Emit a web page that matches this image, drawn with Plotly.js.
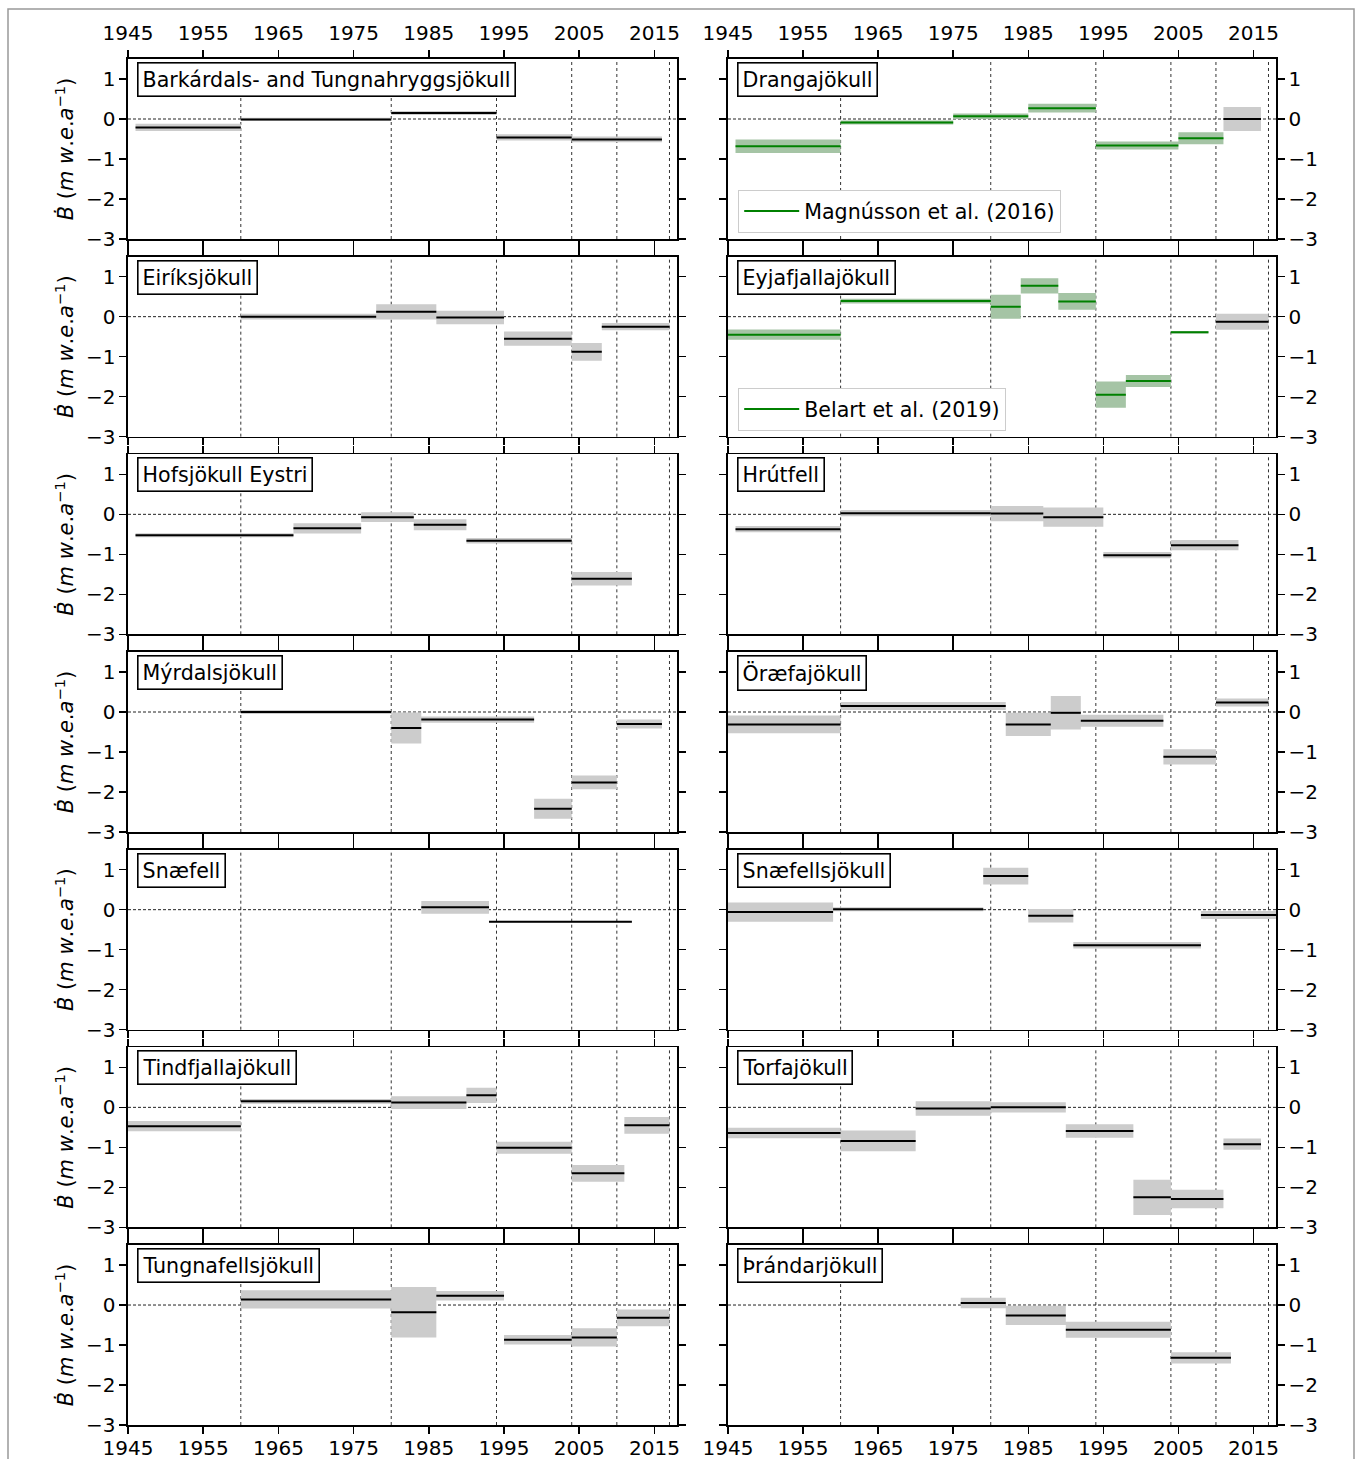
<!DOCTYPE html>
<html>
<head>
<meta charset="utf-8">
<script src="https://cdn.plot.ly/plotly-3.0.1.min.js"></script>
<style>html,body{margin:0;padding:0;background:#fff;}#chart{width:1360px;height:1459px;}</style>
</head>
<body>
<div id="chart"></div>
<script>
// ---------------- DATA ----------------
const glacierNames = [
  "Barkárdals- and Tungnahryggsjökull", "Drangajökull",
  "Eiríksjökull", "Eyjafjallajökull",
  "Hofsjökull Eystri", "Hrútfell",
  "Mýrdalsjökull", "Öræfajökull",
  "Snæfell", "Snæfellsjökull",
  "Tindfjallajökull", "Torfajökull",
  "Tungnafellsjökull", "Þrándarjökull"
];
const xTickYears = [1945, 1955, 1965, 1975, 1985, 1995, 2005, 2015];
const yTickValues = [-3, -2, -1, 0, 1];
const periodBoundaries = [1960, 1980, 1994, 2004, 2010, 2017];

// Barkárdals- and Tungnahryggsjökull
const barkStart = [1946, 1960, 1980, 1994, 2004];
const barkEnd   = [1960, 1980, 1994, 2004, 2016];
const barkVal   = [-0.21, -0.01, 0.15, -0.46, -0.51];
const barkUnc   = [0.09, 0.04, 0.05, 0.08, 0.07];

// Drangajökull
const drangStart = [2011];
const drangEnd   = [2016];
const drangVal   = [0.0];
const drangUnc   = [0.3];
const drangRefStart = [1946, 1960, 1975, 1985, 1994, 2005];
const drangRefEnd   = [1960, 1975, 1985, 1994, 2005, 2011];
const drangRefVal   = [-0.68, -0.09, 0.07, 0.27, -0.66, -0.48];
const drangRefUnc   = [0.17, 0.05, 0.07, 0.11, 0.10, 0.15];

// Eiríksjökull
const eirStart = [1960, 1978, 1986, 1995, 2004, 2008];
const eirEnd   = [1978, 1986, 1995, 2004, 2008, 2017];
const eirVal   = [0.0, 0.12, -0.02, -0.55, -0.88, -0.25];
const eirUnc   = [0.07, 0.19, 0.17, 0.18, 0.22, 0.09];

// Eyjafjallajökull
const eyjStart = [2010];
const eyjEnd   = [2017];
const eyjVal   = [-0.13];
const eyjUnc   = [0.20];
const eyjRefStart = [1945, 1960, 1980, 1984, 1989, 1994, 1998, 2004];
const eyjRefEnd   = [1960, 1980, 1984, 1989, 1994, 1998, 2004, 2009];
const eyjRefVal   = [-0.45, 0.39, 0.25, 0.77, 0.38, -1.95, -1.61, -0.39];
const eyjRefUnc   = [0.13, 0.06, 0.30, 0.19, 0.21, 0.33, 0.15, 0.03];

// Hofsjökull Eystri
const hofStart = [1946, 1967, 1976, 1983, 1990, 2004];
const hofEnd   = [1967, 1976, 1983, 1990, 2004, 2012];
const hofVal   = [-0.52, -0.35, -0.07, -0.26, -0.66, -1.61];
const hofUnc   = [0.05, 0.13, 0.12, 0.14, 0.07, 0.17];

// Hrútfell
const hrutStart = [1946, 1960, 1980, 1987, 1995, 2004];
const hrutEnd   = [1960, 1980, 1987, 1995, 2004, 2013];
const hrutVal   = [-0.37, 0.03, 0.02, -0.07, -1.02, -0.77];
const hrutUnc   = [0.08, 0.08, 0.19, 0.24, 0.08, 0.13];

// Mýrdalsjökull
const myrStart = [1960, 1980, 1984, 1999, 2004, 2010];
const myrEnd   = [1980, 1984, 1999, 2004, 2010, 2016];
const myrVal   = [0.0, -0.40, -0.19, -2.42, -1.76, -0.30];
const myrUnc   = [0.05, 0.39, 0.08, 0.25, 0.17, 0.11];

// Öræfajökull
const oraStart = [1945, 1960, 1982, 1988, 1992, 2003, 2010];
const oraEnd   = [1960, 1982, 1988, 1992, 2003, 2010, 2017];
const oraVal   = [-0.31, 0.15, -0.31, -0.02, -0.22, -1.12, 0.24];
const oraUnc   = [0.22, 0.10, 0.29, 0.42, 0.15, 0.19, 0.10];

// Snæfell
const snaStart = [1984, 1993];
const snaEnd   = [1993, 2012];
const snaVal   = [0.06, -0.30];
const snaUnc   = [0.16, 0.02];

// Snæfellsjökull
const snjStart = [1945, 1959, 1979, 1985, 1991, 2008];
const snjEnd   = [1959, 1979, 1985, 1991, 2008, 2018];
const snjVal   = [-0.06, 0.01, 0.84, -0.15, -0.89, -0.13];
const snjUnc   = [0.24, 0.05, 0.21, 0.17, 0.08, 0.10];

// Tindfjallajökull
const tinStart = [1945, 1960, 1980, 1990, 1994, 2004, 2011];
const tinEnd   = [1960, 1980, 1990, 1994, 2004, 2011, 2017];
const tinVal   = [-0.47, 0.15, 0.12, 0.30, -1.01, -1.65, -0.45];
const tinUnc   = [0.13, 0.06, 0.16, 0.19, 0.15, 0.21, 0.21];

// Torfajökull
const torStart = [1945, 1960, 1970, 1980, 1990, 1999, 2004, 2011];
const torEnd   = [1960, 1970, 1980, 1990, 1999, 2004, 2011, 2016];
const torVal   = [-0.64, -0.84, -0.03, 0.0, -0.59, -2.25, -2.29, -0.92];
const torUnc   = [0.13, 0.26, 0.18, 0.13, 0.17, 0.44, 0.23, 0.14];

// Tungnafellsjökull
const tunStart = [1960, 1980, 1986, 1995, 2004, 2010];
const tunEnd   = [1980, 1986, 1995, 2004, 2010, 2017];
const tunVal   = [0.14, -0.18, 0.23, -0.87, -0.81, -0.32];
const tunUnc   = [0.23, 0.63, 0.12, 0.12, 0.23, 0.21];

// Þrándarjökull
const thrStart = [1976, 1982, 1990, 2004];
const thrEnd   = [1982, 1990, 2004, 2012];
const thrVal   = [0.05, -0.26, -0.62, -1.32];
const thrUnc   = [0.13, 0.24, 0.20, 0.14];

const refSourceNames = { 1: "Magnússon et al. (2016)", 3: "Belart et al. (2019)" };

// ---------------- BUILD ----------------
const mainSeries = [
  [barkStart, barkEnd, barkVal, barkUnc],
  [drangStart, drangEnd, drangVal, drangUnc],
  [eirStart, eirEnd, eirVal, eirUnc],
  [eyjStart, eyjEnd, eyjVal, eyjUnc],
  [hofStart, hofEnd, hofVal, hofUnc],
  [hrutStart, hrutEnd, hrutVal, hrutUnc],
  [myrStart, myrEnd, myrVal, myrUnc],
  [oraStart, oraEnd, oraVal, oraUnc],
  [snaStart, snaEnd, snaVal, snaUnc],
  [snjStart, snjEnd, snjVal, snjUnc],
  [tinStart, tinEnd, tinVal, tinUnc],
  [torStart, torEnd, torVal, torUnc],
  [tunStart, tunEnd, tunVal, tunUnc],
  [thrStart, thrEnd, thrVal, thrUnc]
];
const refSeries = {
  1: [drangRefStart, drangRefEnd, drangRefVal, drangRefUnc],
  3: [eyjRefStart, eyjRefEnd, eyjRefVal, eyjRefUnc]
};

const W = 1360, H = 1459;
const colX = [[128, 677], [728, 1276]];
const rowTop0 = 59, rowPitch = 197.67, rowH = 180;
const FONT = "DejaVu Sans, Liberation Sans, sans-serif";
const GRAY_BAND = "rgb(204,204,204)";
const GREEN_BAND = "rgb(165,196,165)";
const GREEN = "rgb(0,128,0)";

const traces = [];
const layout = {
  width: W, height: H,
  margin: {l: 0, r: 0, t: 0, b: 0},
  paper_bgcolor: "#fff", plot_bgcolor: "#fff",
  font: {family: FONT, size: 20, color: "#000"},
  showlegend: true,
  shapes: [], annotations: []
};

function segLines(s, e, v) {
  const x = [], y = [];
  for (let i = 0; i < s.length; i++) { x.push(s[i], e[i], null); y.push(v[i], v[i], null); }
  return {x, y};
}
function bandPolys(s, e, v, u) {
  const x = [], y = [];
  for (let i = 0; i < s.length; i++) {
    x.push(s[i], e[i], e[i], s[i], s[i], null);
    y.push(v[i] - u[i], v[i] - u[i], v[i] + u[i], v[i] + u[i], v[i] - u[i], null);
  }
  return {x, y};
}

for (let p = 0; p < 14; p++) {
  const row = Math.floor(p / 2), col = p % 2;
  const n = p + 1;
  const xa = n === 1 ? "x" : "x" + n;
  const ya = n === 1 ? "y" : "y" + n;
  const top = rowTop0 + row * rowPitch, bot = top + rowH;
  const xd = [colX[col][0] / W, colX[col][1] / W];
  const yd = [1 - bot / H, 1 - top / H];

  layout[n === 1 ? "xaxis" : "xaxis" + n] = {
    domain: xd, anchor: ya, range: [1945, 2018],
    tickvals: xTickYears, ticktext: xTickYears.map(String),
    ticks: "outside", ticklen: 7, tickwidth: 1.5, tickcolor: "#000",
    showline: true, linewidth: 1.6, linecolor: "#000", mirror: "ticks",
    showgrid: false, zeroline: false,
    showticklabels: (row === 0 || row === 6),
    ticklabelstandoff: row === 6 ? -3 : (row === 0 ? 2 : 0),
    side: row === 0 ? "top" : "bottom",
    tickfont: {size: 20, family: FONT, color: "#000"}
  };
  const yax = {
    domain: yd, anchor: xa, range: [-3, 1.5],
    tickvals: yTickValues,
    ticks: "outside", ticklen: 7, tickwidth: 1.5, tickcolor: "#000",
    showline: true, linewidth: 1.6, linecolor: "#000", mirror: "ticks",
    showgrid: false, zeroline: false,
    side: col === 0 ? "left" : "right",
    tickfont: {size: 20, family: FONT, color: "#000"}
  };
  if (col === 0) {
    yax.title = {text: "<i>Ḃ</i> (<i>m w</i>.<i>e</i>.<i>a</i><sup>−1</sup>)", font: {size: 21, family: FONT}, standoff: 6};
  }
  layout[n === 1 ? "yaxis" : "yaxis" + n] = yax;

  // reference period lines & zero line
  periodBoundaries.forEach(yr => {
    layout.shapes.push({type: "line", xref: xa, yref: ya + " domain", x0: yr, x1: yr, y0: 0, y1: 1,
      line: {color: "#333", width: 1, dash: "dot"}, layer: "below"});
  });
  layout.shapes.push({type: "line", xref: xa + " domain", yref: ya, x0: 0, x1: 1, y0: 0, y1: 0,
    line: {color: "#222", width: 1, dash: "3px,2px"}, layer: "below"});

  // reference (green) series
  if (refSeries[p]) {
    const [s, e, v, u] = refSeries[p];
    const b = bandPolys(s, e, v, u);
    traces.push({type: "scatter", mode: "lines", x: b.x, y: b.y, xaxis: xa, yaxis: ya,
      fill: "toself", fillcolor: GREEN_BAND, line: {width: 0, color: GREEN_BAND}, showlegend: false, hoverinfo: "skip"});
    const l = segLines(s, e, v);
    traces.push({type: "scatter", mode: "lines", x: l.x, y: l.y, xaxis: xa, yaxis: ya,
      line: {color: GREEN, width: 2}, name: refSourceNames[p],
      legend: p === 1 ? "legend" : "legend2", showlegend: true});
  }
  // main (black) series
  const [s, e, v, u] = mainSeries[p];
  const b = bandPolys(s, e, v, u);
  traces.push({type: "scatter", mode: "lines", x: b.x, y: b.y, xaxis: xa, yaxis: ya,
    fill: "toself", fillcolor: GRAY_BAND, line: {width: 0, color: GRAY_BAND}, showlegend: false, hoverinfo: "skip"});
  const l = segLines(s, e, v);
  traces.push({type: "scatter", mode: "lines", x: l.x, y: l.y, xaxis: xa, yaxis: ya,
    line: {color: "#000", width: 2}, showlegend: false});

  // panel label
  layout.annotations.push({
    xref: xa + " domain", yref: ya + " domain", x: 0.016, y: 0.984,
    xanchor: "left", yanchor: "top", showarrow: false,
    text: glacierNames[p], font: {size: 20.6, family: FONT, color: "#000"},
    bgcolor: "#fff", bordercolor: "#000", borderwidth: 1.6, borderpad: 4
  });
}

const legendCommon = {
  xanchor: "left", yanchor: "top", bgcolor: "#fff", bordercolor: "#ccc", borderwidth: 1.2,
  itemwidth: 55,
  font: {size: 20.6, family: FONT, color: "#000"}
};
layout.legend = Object.assign({x: 738 / W, y: 1 - 190 / H}, legendCommon);
layout.legend2 = Object.assign({x: 738 / W, y: 1 - 388 / H}, legendCommon);

// outer frame
layout.shapes.push({type: "rect", xref: "paper", yref: "paper", x0: 8 / W, x1: 1354 / W, y0: -0.01, y1: 1 - 9 / H,
  line: {color: "#999", width: 1.5}, fillcolor: "rgba(0,0,0,0)", layer: "below"});

Plotly.newPlot("chart", traces, layout, {staticPlot: true, displayModeBar: false});
</script>
</body>
</html>
